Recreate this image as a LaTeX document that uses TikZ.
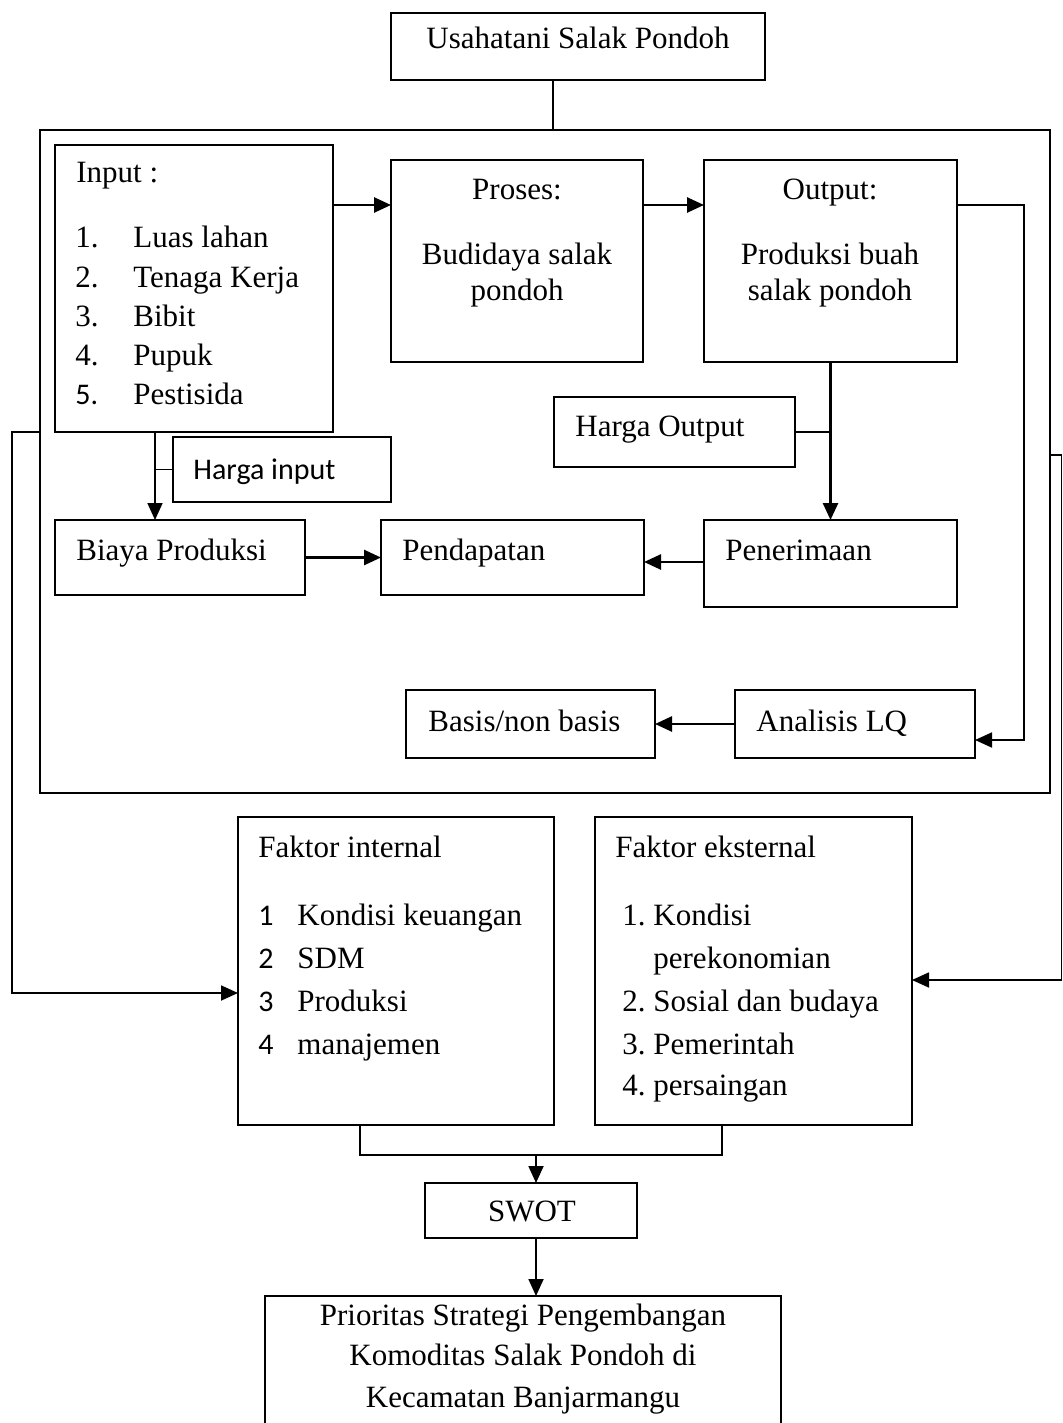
\documentclass[tikz,border=0pt]{standalone}
\usepackage{fontspec}
\setmainfont{Liberation Serif}
\newfontfamily\calfont{Carlito}
\usetikzlibrary{arrows.meta,fit}
\begin{document}
\begin{tikzpicture}[x=0.5pt,y=-0.5pt,
  box/.style={draw, line width=0.9pt, inner sep=0pt, outer sep=0pt},
  txt/.style={inner sep=0pt, font=\fontsize{15.5}{19}\selectfont},
  ln/.style={line width=0.9pt},
  arr/.style={line width=1.3pt, -{Triangle[length=8.5pt,width=7.5pt]}},
  thinarr/.style={line width=0.9pt, -{Triangle[length=8.5pt,width=7.5pt]}},
]
\useasboundingbox (0,0) rectangle (1063,1423);
% boxes
\node[box, fit={(391,13) (765,80)}] (top) {};
\node[box, fit={(40,130) (1050,793)}] (outer) {};
\node[box, fit={(55,145) (333,432)}] (input) {};
\node[box, fit={(391,160) (643,362)}] (proses) {};
\node[box, fit={(704,160) (957,362)}] (output) {};
\node[box, fit={(554,397) (795,467)}] (hout) {};
\node[box, fit={(173,437) (391,502)}] (hin) {};
\node[box, fit={(55,520) (305,595)}] (biaya) {};
\node[box, fit={(381,520) (644,595)}] (pend) {};
\node[box, fit={(704,520) (957,607)}] (pen) {};
\node[box, fit={(406,690) (655,758)}] (basis) {};
\node[box, fit={(735,690) (975,758)}] (lq) {};
\node[box, fit={(238,817) (554,1125)}] (fint) {};
\node[box, fit={(595,817) (912,1125)}] (fext) {};
\node[box, fit={(425,1183) (637,1238)}] (swot) {};
\node[box, fit={(265,1296) (781,1440)}] (final) {};
% texts
\node[txt, anchor=base] (t1) at (578,49) {Usahatani Salak Pondoh};
\node[txt, anchor=base west] (t2) at (76,183) {Input :};
\node[txt, anchor=base west] (n1) at (75,248) {1.};
\node[txt, anchor=base west] (n2) at (75,287) {2.};
\node[txt, anchor=base west] (n3) at (75,326) {3.};
\node[txt, anchor=base west] (n4) at (75,365) {4.};
\node[txt, anchor=base west, font=\calfont\fontsize{15}{19}\selectfont] (n5) at (75,404) {5.};
\node[txt, anchor=base west] (i1) at (133,248) {Luas lahan};
\node[txt, anchor=base west] (i2) at (133,287) {Tenaga Kerja};
\node[txt, anchor=base west] (i3) at (133,326) {Bibit};
\node[txt, anchor=base west] (i4) at (133,365) {Pupuk};
\node[txt, anchor=base west] (i5) at (133,404) {Pestisida};
\node[txt, anchor=base] (p1) at (517,200) {Proses:};
\node[txt, anchor=base] (p2) at (517,264) {Budidaya salak};
\node[txt, anchor=base] (p3) at (517,300) {pondoh};
\node[txt, anchor=base] (o1) at (830,200) {Output:};
\node[txt, anchor=base] (o2) at (830,264) {Produksi buah};
\node[txt, anchor=base] (o3) at (830,300) {salak pondoh};
\node[txt, anchor=base west] (th) at (575,436) {Harga Output};
\node[txt, anchor=base west, font=\calfont\fontsize{15}{19}\selectfont] (thi) at (193,479) {Harga input};
\node[txt, anchor=base west] (tb) at (76,560) {Biaya Produksi};
\node[txt, anchor=base west] (tp) at (402,560) {Pendapatan};
\node[txt, anchor=base west] (tpe) at (725,560) {Penerimaan};
\node[txt, anchor=base west] (tba) at (428,731) {Basis/non basis};
\node[txt, anchor=base west] (tlq) at (756,731) {Analisis LQ};
\node[txt, anchor=base west] (fi) at (258,857) {Faktor internal};
\node[txt, anchor=base west, font=\calfont\fontsize{15}{19}\selectfont] (fn1) at (258,925) {1};
\node[txt, anchor=base west, font=\calfont\fontsize{15}{19}\selectfont] (fn2) at (258,968) {2};
\node[txt, anchor=base west, font=\calfont\fontsize{15}{19}\selectfont] (fn3) at (258,1011) {3};
\node[txt, anchor=base west, font=\calfont\fontsize{15}{19}\selectfont] (fn4) at (258,1054) {4};
\node[txt, anchor=base west] (fi1) at (297,925) {Kondisi keuangan};
\node[txt, anchor=base west] (fi2) at (297,968) {SDM};
\node[txt, anchor=base west] (fi3) at (297,1011) {Produksi};
\node[txt, anchor=base west] (fi4) at (297,1054) {manajemen};
\node[txt, anchor=base west] (fe) at (615,857) {Faktor eksternal};
\node[txt, anchor=base west] (en1) at (622,925) {1.};
\node[txt, anchor=base west] (en2) at (622,1011) {2.};
\node[txt, anchor=base west] (en3) at (622,1054) {3.};
\node[txt, anchor=base west] (en4) at (622,1095) {4.};
\node[txt, anchor=base west] (fe1) at (653,925) {Kondisi};
\node[txt, anchor=base west] (fe1b) at (653,968) {perekonomian};
\node[txt, anchor=base west] (fe2) at (653,1011) {Sosial dan budaya};
\node[txt, anchor=base west] (fe3) at (653,1054) {Pemerintah};
\node[txt, anchor=base west] (fe4) at (653,1095) {persaingan};
\node[txt, anchor=base] (ts) at (532,1221) {SWOT};
\node[txt, anchor=base] (tf1) at (523,1325) {Prioritas Strategi Pengembangan};
\node[txt, anchor=base] (tf2) at (523,1365) {Komoditas Salak Pondoh di};
\node[txt, anchor=base] (tf3) at (523,1407) {Kecamatan Banjarmangu};
% connectors
\draw[ln] ([xshift=-12.5pt]top.south) -- ([xshift=-12.5pt]top.south |- outer.north);
\draw[arr] (input.east |- 0,205) -- (proses.west |- 0,205);
\draw[arr] (proses.east |- 0,205) -- (output.west |- 0,205);
\draw[thinarr] (output.east |- 0,205) -- (1024,205) |- (lq.east |- 0,740);
\draw[arr] (output.south) -- (pen.north);
\draw[ln] (hout.east) -- (hout.east -| output.south);
\draw[thinarr] (input.south -| 155,0) -- (biaya.north -| 155,0);
\draw[ln] (hin.west) -- (hin.west -| 155,0);
\draw[arr] (biaya.east) -- (pend.west);
\draw[arr] (pen.west |- 0,562) -- (pend.east |- 0,562);
\draw[arr] (lq.west) -- (basis.east);
\draw[thinarr] (outer.west |- 0,432) -- (12,432) |- (fint.west |- 0,993);
\draw[thinarr] (outer.east |- 0,455) -- (1061.5,455) |- (fext.east |- 0,980);
\draw[ln] (fint.south -| 360,0) -- (360,1155) -| (fext.south -| 722,0);
\draw[thinarr] (536,1155) -- (swot.north -| 536,0);
\draw[thinarr] (swot.south -| 536,0) -- (final.north -| 536,0);
\end{tikzpicture}
\end{document}
